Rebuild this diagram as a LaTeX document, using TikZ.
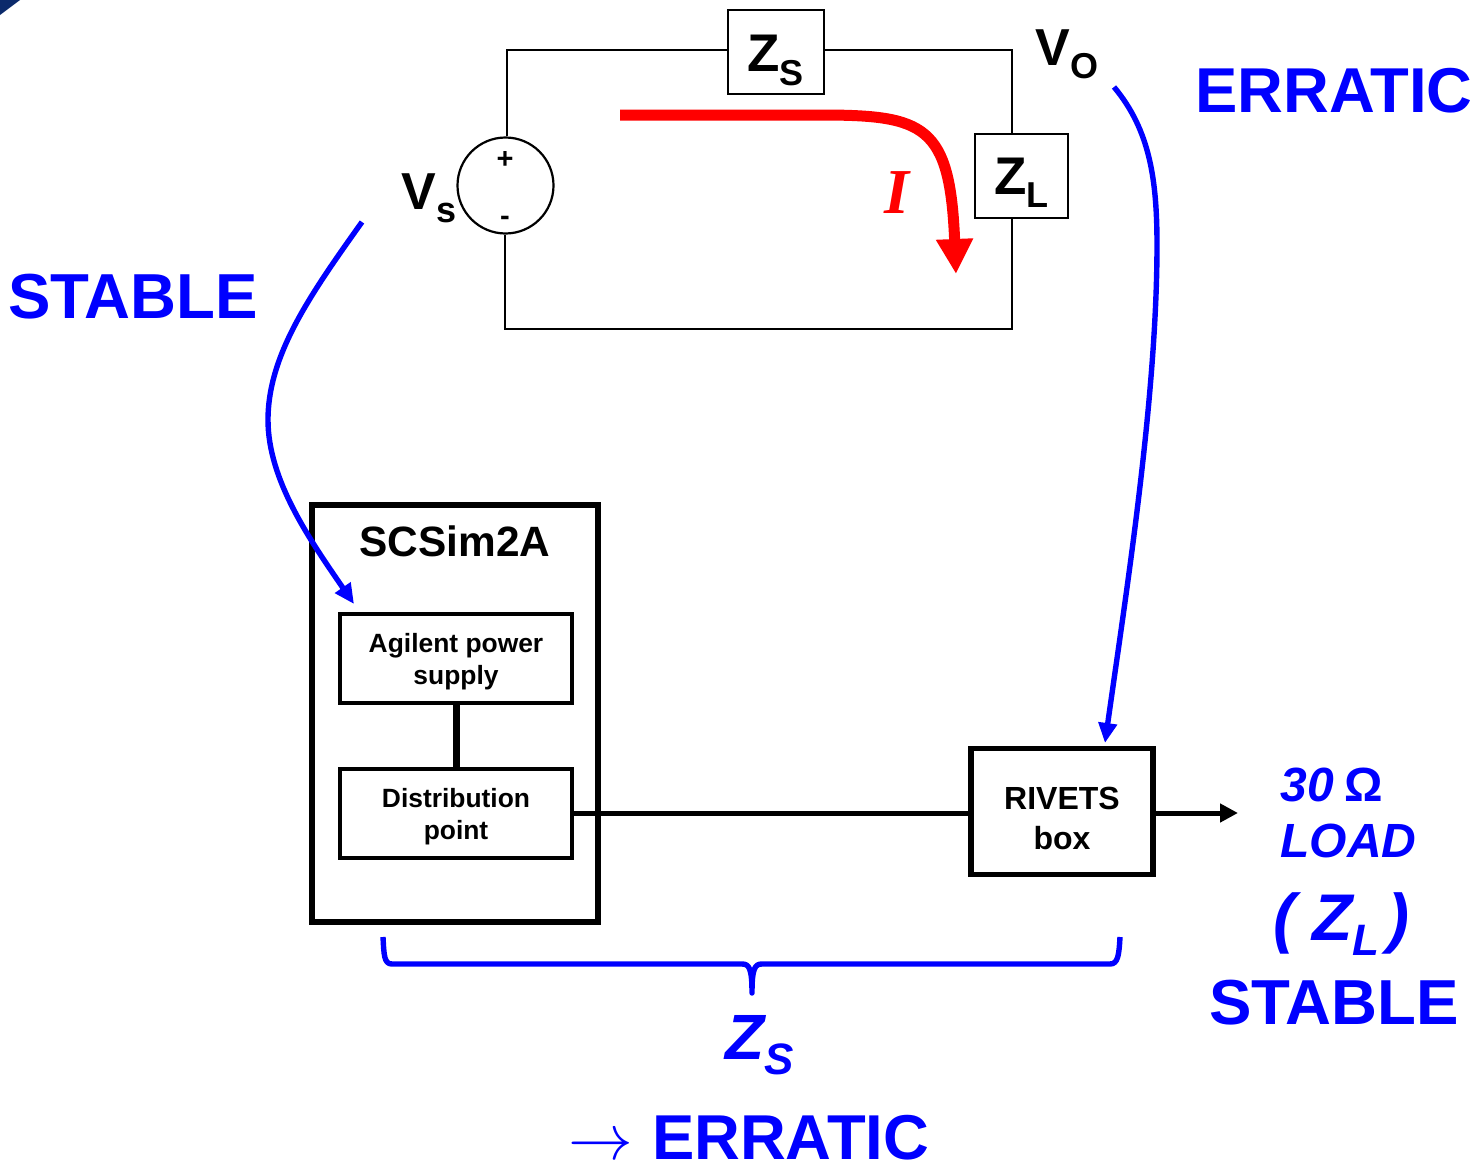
\documentclass[tikz,border=0pt]{standalone}
\usepackage{fontspec}
\setmainfont{Liberation Sans}
\newfontfamily\serifbi{Liberation Serif}
\usetikzlibrary{arrows.meta}
\newcommand\fsz[1]{\fontsize{#1}{#1}\selectfont}
\newcommand\subdn[3]{\raisebox{-#1}{\fsz{#2}#3}}
\definecolor{navy}{HTML}{0B2A6B}
\tikzset{
  wire/.style={draw=black,line width=1pt},
  imp/.style={draw=black,line width=1pt,fill=white,inner sep=0pt},
  lab/.style={inner sep=0pt,anchor=base west,font=\bfseries},
  bluelab/.style={lab,text=blue},
  heavybox/.style={draw=black,line width=2.6pt,inner sep=0pt,align=center,font=\bfseries},
  innerbox/.style={draw=black,line width=1.8pt,inner sep=0pt,align=center,font=\bfseries\fontsize{13.2}{16}\selectfont},
  thick wire/.style={draw=black,line width=2.5pt},
  bluecurve/.style={draw=blue,line width=2.7pt},
}
\begin{document}
\begin{tikzpicture}[x=0.5pt,y=-0.5pt]
\useasboundingbox (0,0) rectangle (1479,1167);
\fill[navy] (0,0) -- (20,0) -- (0,15) -- cycle;

% circuit
\node[draw=black,line width=1.1pt,circle,minimum size=48pt,inner sep=0pt] (vs) at (505.5,185.5) {};
\node[imp,minimum width=48pt,minimum height=42pt] (zs) at (775.5,51.5) {};
\node[imp,minimum width=46.5pt,minimum height=42pt] (zl) at (1021.5,176) {};
\coordinate (tl) at (507,50);
\coordinate (tr) at (1012,50);
\coordinate (bl) at (505,329);
\coordinate (br) at (1012,329);
\draw[wire] (vs.north -| tl) -- (tl) -- (tl -| zs.west);
\draw[wire] (tr -| zs.east) -- (tr) -- (tr |- zl.north);
\draw[wire] (br |- zl.south) -- (br) -- (bl) -- (bl |- vs.south);

\node[inner sep=0pt,font=\bfseries\fsz{14.5}] (plus) at (505,159.5) {+};
\node[inner sep=0pt,font=\bfseries\fsz{14.5}] (minus) at (505,221) {-};
\node[lab] (vslab) at (401.5,209) {\fsz{26}V\subdn{6.5pt}{18}{s}};
\node[lab] (volab) at (1035,65) {\fsz{26}V\subdn{6.5pt}{18}{O}};
\node[lab] (zslab) at (747,71) {\fsz{26.5}Z\subdn{7pt}{18}{S}};
\node[lab] (zllab) at (994,194) {\fsz{26.5}Z\subdn{6.5pt}{18}{L}};
\node[lab,text=red] (ilab) at (884,213) {\serifbi\bfseries\itshape\fsz{32}I};

% current arrow
\coordinate (ia) at (620,115);
\coordinate (ib) at (956,274);
\draw[red,line width=5.5pt,-{Triangle[length=17.5pt,width=17.5pt]}] (ia) -- (820,115)
  .. controls (925,115) and (950,125) .. (ib);

% labels
\node[bluelab] (stable1) at (8,318) {\fsz{31.8}STABLE};
\node[bluelab] (erratic1) at (1195,112) {\fsz{31.7}ERRATIC};

% block diagram
\node[heavybox,minimum width=143pt,minimum height=208.5pt] (sc) at (455,713.5) {};
\node[lab,anchor=base,font=\bfseries\fsz{21.2}] (sclab) at (455,556) {SCSim2A};
\node[innerbox,minimum width=116pt,minimum height=44.5pt] (ag) at (456,658.5) {\rule{0pt}{12.6pt}Agilent power\\supply};
\node[innerbox,minimum width=116pt,minimum height=44.5pt] (dp) at (456,813.5) {\rule{0pt}{12.6pt}Distribution\\point};
\node[heavybox,font=\bfseries\fontsize{16}{20}\selectfont,minimum width=91pt,minimum height=63pt] (rv) at (1062,811.5) {\rule{0pt}{18.5pt}RIVETS\\box};
\coordinate (loadend) at (1238,813);
\draw[draw=black,line width=3.5pt] (ag.south) -- (dp.north);
\draw[thick wire] (dp.east |- 0,813) -- (rv.west |- 0,813);
\draw[thick wire,-{Triangle[length=9pt,width=9pt]}] (rv.east |- loadend) -- (loadend);

% blue curved arrows
\coordinate (va) at (362,222);
\coordinate (vo) at (1114,87);
\draw[bluecurve,-{Triangle[length=10pt,width=9pt]}] (va)
  .. controls (310,295) and (268,355) .. (268,420)
  .. controls (268,480) and (310,540) .. (354,604);
\draw[bluecurve,-{Triangle[length=10pt,width=9pt]}] (vo)
  .. controls (1150,130) and (1157,180) .. (1157,245)
  .. controls (1157,400) and (1125,600) .. (1105,743);

% right labels
\node[lab,text=blue,font=\bfseries\itshape] (load1) at (1280,801) {\fsz{24}30\hspace{5.5pt}{\upshape Ω}};
\node[lab,text=blue,font=\bfseries\itshape] (load2) at (1280,857) {\fsz{24}LOAD};
\node[lab,text=blue,font=\bfseries\itshape] (load3) at (1273,940) {\fsz{33}(\hspace{8.5pt}Z\subdn{7.5pt}{22}{L}\hspace{4pt})};
\node[bluelab] (stable2) at (1209,1024) {\fsz{31.8}STABLE};

% brace
\coordinate (bra) at (383,937);
\coordinate (brb) at (1120,937);
\coordinate (brt) at (752,993);
\draw[bluecurve,line join=round] (bra) .. controls (384,955) and (384,964) .. (392,964)
  -- (742,964) .. controls (749,964) and (752,968) .. (brt)
  .. controls (752,968) and (755,964) .. (762,964)
  -- (1110,964) .. controls (1118,964) and (1119,955) .. (brb);

% bottom labels
\node[lab,text=blue,font=\bfseries\itshape] (zsbot) at (725,1059) {\fsz{32}Z\subdn{7.5pt}{22}{S}};
\node[bluelab] (erratic2) at (568,1159) {\fsz{31.7}\scalebox{1.3}{$\rightarrow$}\hspace{9.5pt}ERRATIC};
\end{tikzpicture}
\end{document}
